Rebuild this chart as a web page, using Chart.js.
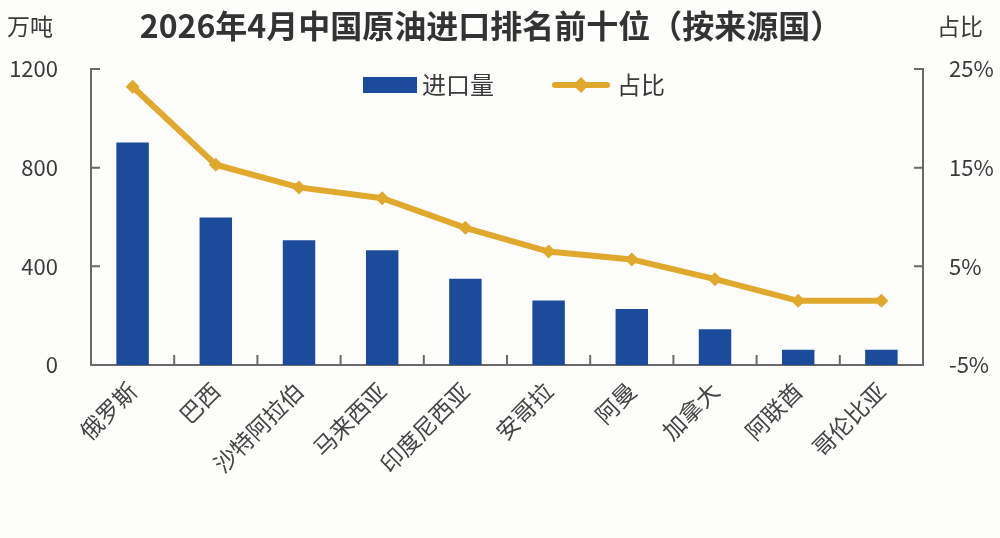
<!DOCTYPE html>
<html>
<head>
<meta charset="utf-8">
<script src="https://cdn.jsdelivr.net/npm/chart.js@4.4.1/dist/chart.umd.min.js"></script>
<style>
  html, body { margin: 0; padding: 0; background: #fdfdfb; }
  #wrap { width: 1000px; height: 538px; position: relative; }
</style>
</head>
<body>
<div id="wrap"><canvas id="chart"></canvas></div>
<script>
// Data
const countries = ['俄罗斯', '巴西', '沙特阿拉伯', '马来西亚', '印度尼西亚', '安哥拉', '阿曼', '加拿大', '阿联酋', '哥伦比亚'];
const importVolume = [902, 598, 506, 465, 350, 261, 227, 145, 62, 62];   // 万吨
const importShare = [23.2, 15.3, 13.0, 11.9, 8.9, 6.5, 5.7, 3.7, 1.5, 1.5]; // %
const volumeTicks = [0, 400, 800, 1200];
const shareTicks = [-5, 5, 15, 25];

const chartTitle = '2026年4月中国原油进口排名前十位（按来源国）';
const leftUnit = '万吨';
const rightUnit = '占比';

const barColor = '#1d4b9b';
const lineColor = '#e0a82c';
const axisColor = '#6a6a6a';
const textColor = '#3a3a3a';
const fontFamily = '"Noto Sans CJK SC", "Noto Sans", sans-serif';

// background, title, units, legend, inner tick marks
const decor = {
    id: 'decor',
    beforeDraw(chart) {
        const { ctx, width, height } = chart;
        ctx.save();
        ctx.fillStyle = '#fdfdfb';
        ctx.fillRect(0, 0, width, height);
        ctx.restore();
    },
    afterDatasetsDraw(chart) {
        const { ctx, chartArea, scales } = chart;
        ctx.save();
        ctx.strokeStyle = axisColor;
        ctx.lineWidth = 2;
        ctx.beginPath();
        volumeTicks.forEach(v => {
            if (v === 0) return;
            const y = scales.y.getPixelForValue(v);
            ctx.moveTo(chartArea.left, y);
            ctx.lineTo(chartArea.left + 9, y);
        });
        shareTicks.forEach(v => {
            if (v === -5) return;
            const y = scales.y2.getPixelForValue(v);
            ctx.moveTo(chartArea.right, y);
            ctx.lineTo(chartArea.right - 9, y);
        });
        for (let i = 1; i < countries.length; i++) {
            const x = (scales.x.getPixelForValue(i - 1) + scales.x.getPixelForValue(i)) / 2;
            ctx.moveTo(x, chartArea.bottom);
            ctx.lineTo(x, chartArea.bottom - 10);
        }
        ctx.stroke();

        // title + units
        ctx.fillStyle = '#333333';
        ctx.textBaseline = 'middle';
        ctx.textAlign = 'center';
        ctx.font = 'bold 32px ' + fontFamily;
        ctx.fillText(chartTitle, 491, 26);
        ctx.fillStyle = textColor;
        ctx.font = '23px ' + fontFamily;
        ctx.textAlign = 'left';
        ctx.fillText(leftUnit, 7, 26);
        ctx.fillText(rightUnit, 937, 26);

        // legend
        const ds = chart.data.datasets;
        ctx.fillStyle = barColor;
        ctx.fillRect(363, 77, 54, 16);
        ctx.fillStyle = textColor;
        ctx.font = '24px ' + fontFamily;
        ctx.fillText(ds[1].label, 422, 85);
        ctx.strokeStyle = lineColor;
        ctx.lineWidth = 6;
        ctx.lineCap = 'round';
        ctx.beginPath();
        ctx.moveTo(555, 85);
        ctx.lineTo(607, 85);
        ctx.stroke();
        ctx.fillStyle = lineColor;
        ctx.beginPath();
        ctx.moveTo(581, 77); ctx.lineTo(589, 85); ctx.lineTo(581, 93); ctx.lineTo(573, 85);
        ctx.closePath();
        ctx.fill();
        ctx.fillStyle = textColor;
        ctx.fillText(ds[0].label, 617, 85);
        ctx.restore();
    }
};

const ctx = document.getElementById('chart').getContext('2d');
const oilChart = new Chart(ctx, {
    type: 'bar',
    data: {
        labels: countries,
        datasets: [
            {
                type: 'line',
                label: '占比',
                data: importShare,
                yAxisID: 'y2',
                borderColor: lineColor,
                backgroundColor: lineColor,
                borderWidth: 6,
                pointStyle: 'rectRot',
                pointRadius: 7,
                pointBorderWidth: 0,
                tension: 0,
                order: 0
            },
            {
                type: 'bar',
                label: '进口量',
                data: importVolume,
                yAxisID: 'y',
                backgroundColor: barColor,
                barPercentage: 0.39,
                categoryPercentage: 1,
                order: 1
            }
        ]
    },
    options: {
        responsive: true,
        maintainAspectRatio: false,
        animation: false,
        layout: { padding: { top: 69, left: 0, right: 0, bottom: 0 } },
        plugins: {
            legend: { display: false },
            title: { display: false },
            tooltip: { enabled: false }
        },
        scales: {
            x: {
                offset: true,
                grid: { display: false, drawTicks: false },
                border: { display: true, color: axisColor, width: 2 },
                ticks: {
                    color: '#444444',
                    font: { family: fontFamily, size: 23 },
                    minRotation: 45,
                    maxRotation: 45,
                    padding: 12
                },
                afterFit(scale) { scale.height = 173; }
            },
            y: {
                position: 'left',
                min: 0,
                max: 1200,
                afterBuildTicks(scale) { scale.ticks = volumeTicks.map(v => ({ value: v })); },
                grid: { display: false, drawTicks: false },
                border: { display: true, color: axisColor, width: 2 },
                ticks: {
                    color: textColor,
                    font: { family: fontFamily, size: 22 },
                    padding: 33,
                    callback: v => String(v)
                },
                afterFit(scale) { scale.width = 91; }
            },
            y2: {
                position: 'right',
                min: -5,
                max: 25,
                afterBuildTicks(scale) { scale.ticks = shareTicks.map(v => ({ value: v })); },
                grid: { display: false, drawTicks: false },
                border: { display: true, color: axisColor, width: 2 },
                ticks: {
                    color: textColor,
                    font: { family: fontFamily, size: 22 },
                    padding: 26,
                    callback: v => v + '%'
                },
                afterFit(scale) { scale.width = 77; }
            }
        }
    },
    plugins: [decor]
});
</script>
</body>
</html>
